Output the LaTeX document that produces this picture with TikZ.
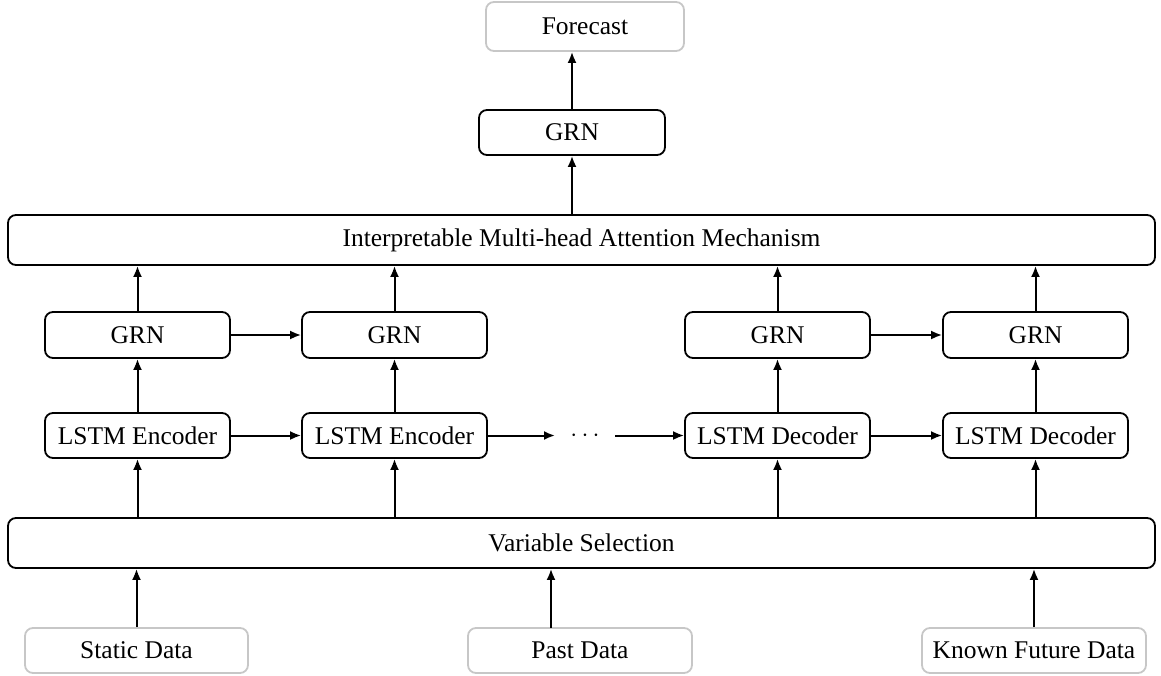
\documentclass[tikz,border=0pt]{standalone}
\usepackage{fontspec}
\setmainfont{Liberation Serif}
\usetikzlibrary{arrows.meta}
\begin{document}
\begin{tikzpicture}[x=1pt,y=-1pt,
  box/.style={draw=black,line width=1.8pt,rounded corners=8pt,inner sep=0pt,font=\fontsize{25.5}{30}\selectfont},
  inbox/.style={draw=black!22,line width=1.8pt,rounded corners=8pt,inner sep=0pt,font=\fontsize{25.5}{30}\selectfont},
  arr/.style={line width=2pt,-{Latex[length=11pt,width=9pt]}}]
\useasboundingbox (0,0) rectangle (1161,675);
\node[inbox,minimum width=198pt,minimum height=49pt] (fc) at (585,26.5) {Forecast};
\node[box,minimum width=186pt,minimum height=45pt] (grnt) at (572,132.5) {GRN};
\node[box,minimum width=1147pt,minimum height=50pt] (att) at (581.5,240) {Interpretable Multi-head Attention Mechanism};
\foreach \n/\x in {1/137.5,2/394.5,3/777.5,4/1035.5}{
  \node[box,minimum width=185pt,minimum height=46pt] (g\n) at (\x,335) {GRN};
}
\node[box,minimum width=185pt,minimum height=45pt] (l1) at (137.5,435.5) {LSTM Encoder};
\node[box,minimum width=185pt,minimum height=45pt] (l2) at (394.5,435.5) {LSTM Encoder};
\node[box,minimum width=185pt,minimum height=45pt] (l3) at (777.5,435.5) {LSTM Decoder};
\node[box,minimum width=185pt,minimum height=45pt] (l4) at (1035.5,435.5) {LSTM Decoder};
\node[box,minimum width=1147pt,minimum height=50pt] (vs) at (581.5,543) {Variable Selection};
\node[inbox,minimum width=223pt,minimum height=45pt] (sd) at (136.5,650.5) {Static Data};
\node[inbox,minimum width=224pt,minimum height=45pt] (pd) at (580,650.5) {Past Data};
\node[inbox,minimum width=224pt,minimum height=45pt] (kf) at (1034,650.5) {Known Future Data};
\node[font=\fontsize{40}{44}\selectfont,inner sep=0pt] (dots) at (585,435.5) {$\cdots$};
\coordinate (dl) at (555,435.5);
\coordinate (dr) at (615,435.5);
\coordinate (pa) at (551,628);
% vertical arrows
\draw[arr] (grnt.north) -- (grnt.north |- fc.south);
\draw[arr] (att.north -| grnt) -- (grnt.south);
\foreach \n in {1,2,3,4}{
  \draw[arr] (vs.north -| l\n) -- (l\n.south);
  \draw[arr] (l\n.north) -- (g\n.south);
  \draw[arr] (g\n.north) -- (att.south -| g\n);
}
\draw[arr] (sd.north) -- (vs.south -| sd);
\draw[arr] (pa) -- (vs.south -| pa);
\draw[arr] (kf.north) -- (vs.south -| kf);
% horizontal arrows
\draw[arr] (g1.east) -- (g2.west);
\draw[arr] (g3.east) -- (g4.west);
\draw[arr] (l1.east) -- (l2.west);
\draw[arr] (l3.east) -- (l4.west);
\draw[arr] (l2.east) -- (dl);
\draw[arr] (dr) -- (l3.west);
\end{tikzpicture}
\end{document}
